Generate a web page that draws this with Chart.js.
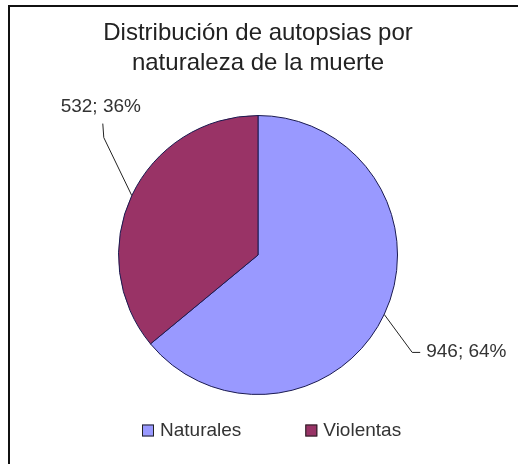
<!DOCTYPE html>
<html>
<head>
<meta charset="utf-8">
<script src="https://cdn.jsdelivr.net/npm/chart.js@4/dist/chart.umd.min.js"></script>
<style>
  html, body { margin: 0; padding: 0; background: #fff; }
  #wrap { width: 518px; height: 464px; }
</style>
</head>
<body>
<div id="wrap"><canvas id="chart" width="518" height="464"></canvas></div>
<script>
const categories = ['Naturales', 'Violentas'];
const autopsias = [946, 532];
const colores = ['#9999ff', '#993366'];
const titulo = ['Distribución de autopsias por', 'naturaleza de la muerte'];

const FONT = "'Liberation Sans', Arial, sans-serif";

// leader line / label offsets from the edge point of each slice
const labelPos = [
    { pts: [[28, 38], [36, 38]], text: [42, 37], align: 'left' },
    { pts: [[-28, -58], [-29, -72]], text: [-31, -89], align: 'center' }
];

const extras = {
    id: 'extras',
    beforeDraw(chart) {
        const ctx = chart.ctx;
        ctx.save();
        ctx.strokeStyle = '#111';
        ctx.lineWidth = 2;
        ctx.beginPath();
        ctx.moveTo(9, 464);
        ctx.lineTo(9, 6);
        ctx.lineTo(518, 6);
        ctx.stroke();
        ctx.restore();
    },
    afterDatasetsDraw(chart) {
        const ctx = chart.ctx;
        const meta = chart.getDatasetMeta(0);
        const total = autopsias.reduce((a, b) => a + b, 0);
        ctx.save();
        meta.data.forEach((arc, i) => {
            const mid = (arc.startAngle + arc.endAngle) / 2;
            const ex = arc.x + Math.cos(mid) * arc.outerRadius;
            const ey = arc.y + Math.sin(mid) * arc.outerRadius;
            const lp = labelPos[i];
            ctx.strokeStyle = '#222';
            ctx.lineWidth = 1;
            ctx.beginPath();
            ctx.moveTo(ex, ey);
            lp.pts.forEach(p => ctx.lineTo(ex + p[0], ey + p[1]));
            ctx.stroke();
            const pct = Math.round(autopsias[i] / total * 100);
            ctx.fillStyle = '#333';
            ctx.font = '19px ' + FONT;
            ctx.textAlign = lp.align;
            ctx.textBaseline = 'middle';
            ctx.fillText(autopsias[i] + '; ' + pct + '%', ex + lp.text[0], ey + lp.text[1]);
        });

        // legend
        const cx = meta.data[0].x;
        const cy = meta.data[0].y + meta.data[0].outerRadius + 36;
        ctx.font = '19px ' + FONT;
        ctx.textAlign = 'left';
        let x = cx - 116;
        categories.forEach((cat, i) => {
            ctx.fillStyle = colores[i];
            ctx.fillRect(x, cy - 6, 12, 12);
            ctx.strokeStyle = '#222';
            ctx.strokeRect(x + 0.5, cy - 5.5, 11, 11);
            ctx.fillStyle = '#333';
            ctx.fillText(cat, x + 18, cy);
            x += 18 + ctx.measureText(cat).width + 64;
        });
        ctx.restore();
    }
};

new Chart(document.getElementById('chart').getContext('2d'), {
    type: 'pie',
    data: {
        labels: categories,
        datasets: [{
            data: autopsias,
            backgroundColor: colores,
            borderColor: '#1a1a50',
            borderWidth: 1
        }]
    },
    options: {
        responsive: false,
        animation: false,
        devicePixelRatio: 1,
        layout: { padding: { top: 0, left: 60, right: 62, bottom: 69 } },
        plugins: {
            legend: { display: false },
            tooltip: { enabled: false },
            title: {
                display: true,
                text: titulo,
                color: '#222',
                font: { family: FONT, size: 24, weight: 'normal', lineHeight: 1.25 },
                padding: { top: 18, bottom: 37 }
            }
        }
    },
    plugins: [extras]
});
</script>
</body>
</html>
